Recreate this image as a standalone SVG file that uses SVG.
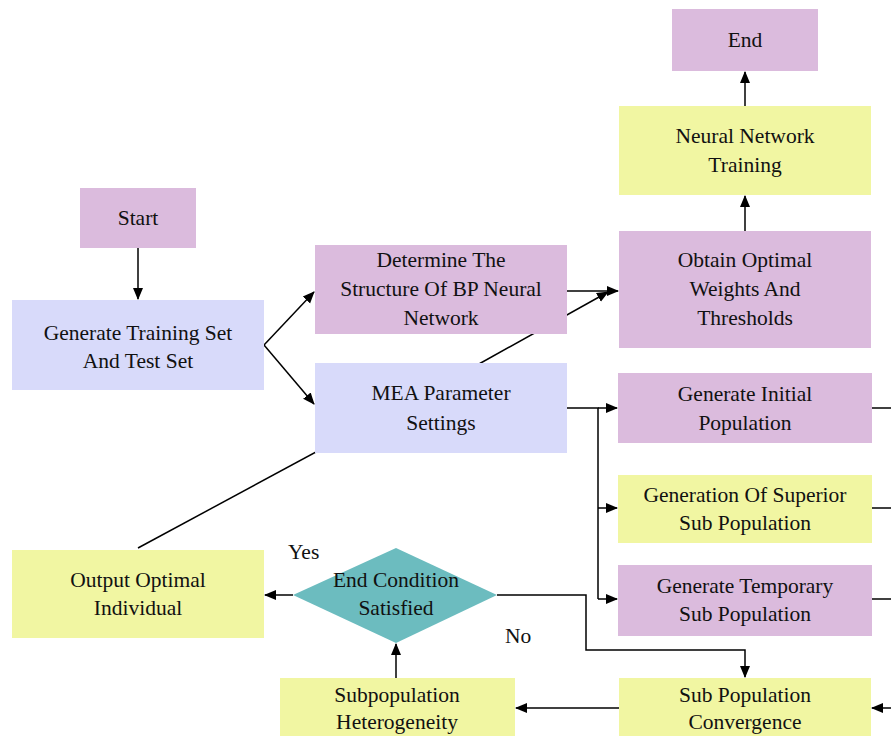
<svg xmlns="http://www.w3.org/2000/svg" width="891" height="738" viewBox="0 0 891 738">
<defs>
<marker id="ah" markerWidth="12" markerHeight="12" refX="11" refY="6" orient="auto" markerUnits="userSpaceOnUse">
<path d="M0,1 L12,6 L0,11 z" fill="#000"/>
</marker>
<style>
.p{fill:#dbbbdd}
.b{fill:#d8dafa}
.y{fill:#f1f6a2}
.d{fill:#6cbcbf}
text{font-family:"Liberation Serif","Times New Roman",serif;font-size:21.5px;fill:#111;text-anchor:middle}
.c{fill:none;stroke:#000;stroke-width:1.5}
.ca{fill:none;stroke:#000;stroke-width:1.5;marker-end:url(#ah)}
.lb{text-anchor:start}
</style>
</defs>
<rect width="891" height="738" fill="#fff"/>
<g id="connectors">
<line class="c" x1="138" y1="548" x2="470" y2="369"/>
<line class="ca" x1="470" y1="369" x2="608" y2="292"/>
<line class="ca" x1="138" y1="248" x2="138" y2="299"/>
<line class="ca" x1="264" y1="345" x2="314" y2="292"/>
<line class="ca" x1="264" y1="345" x2="314" y2="404"/>
<line class="ca" x1="567" y1="291" x2="618" y2="291"/>
<line class="ca" x1="745" y1="231" x2="745" y2="196"/>
<line class="ca" x1="745" y1="106" x2="745" y2="72"/>
<polyline class="c" points="567,408 598,408 598,599"/>
<line class="ca" x1="598" y1="408" x2="617" y2="408"/>
<line class="ca" x1="598" y1="508" x2="617" y2="508"/>
<line class="ca" x1="598" y1="599" x2="617" y2="599"/>
<line class="c" x1="872" y1="408" x2="891" y2="408"/>
<line class="c" x1="872" y1="508" x2="891" y2="508"/>
<line class="c" x1="872" y1="599" x2="891" y2="599"/>
<polyline class="ca" points="497,595 586,595 586,650 745,650 745,677"/>
<line class="ca" x1="891" y1="708" x2="872" y2="708"/>
<line class="ca" x1="619" y1="708" x2="516" y2="708"/>
<line class="ca" x1="396" y1="678" x2="396" y2="644"/>
<line class="ca" x1="293" y1="595" x2="265" y2="595"/>
</g>
<g id="start"><rect class="p" x="80" y="188" width="116" height="60"/><text x="138" y="225">Start</text></g>
<g id="end"><rect class="p" x="672" y="9" width="146" height="62"/><text x="745" y="47">End</text></g>
<g id="nntraining"><rect class="y" x="619" y="106" width="252" height="89"/><text x="745" y="143">Neural Network</text><text x="745" y="172">Training</text></g>
<g id="obtain"><rect class="p" x="619" y="231" width="252" height="117"/><text x="745" y="267">Obtain Optimal</text><text x="745" y="296">Weights And</text><text x="745" y="325">Thresholds</text></g>
<g id="determine"><rect class="p" x="315" y="245" width="252" height="89"/><text x="441" y="267">Determine The</text><text x="441" y="296">Structure Of BP Neural</text><text x="441" y="325">Network</text></g>
<g id="gentrain"><rect class="b" x="12" y="300" width="252" height="90"/><text x="138" y="340">Generate Training Set</text><text x="138" y="368">And Test Set</text></g>
<g id="mea"><rect class="b" x="315" y="363" width="252" height="90"/><text x="441" y="400">MEA Parameter</text><text x="441" y="430">Settings</text></g>
<g id="initial"><rect class="p" x="618" y="373" width="254" height="70"/><text x="745" y="401">Generate Initial</text><text x="745" y="430">Population</text></g>
<g id="superior"><rect class="y" x="618" y="475" width="254" height="68"/><text x="745" y="502">Generation Of Superior</text><text x="745" y="530">Sub Population</text></g>
<g id="temporary"><rect class="p" x="618" y="565" width="254" height="71"/><text x="745" y="593">Generate Temporary</text><text x="745" y="621">Sub Population</text></g>
<g id="spc"><rect class="y" x="619" y="678" width="252" height="58"/><text x="745" y="702">Sub Population</text><text x="745" y="729">Convergence</text></g>
<g id="sh"><rect class="y" x="280" y="678" width="235" height="58"/><text x="397" y="702">Subpopulation</text><text x="397" y="729">Heterogeneity</text></g>
<g id="output"><rect class="y" x="12" y="550" width="252" height="88"/><text x="138" y="587">Output Optimal</text><text x="138" y="615">Individual</text></g>
<g id="cond"><polygon class="d" points="396,548 497,595 396,643 293,595"/><text x="396" y="587">End Condition</text><text x="396" y="615">Satisfied</text></g>
<g id="labels"><text class="lb" x="288" y="559">Yes</text><text class="lb" x="505" y="643">No</text></g>
</svg>
